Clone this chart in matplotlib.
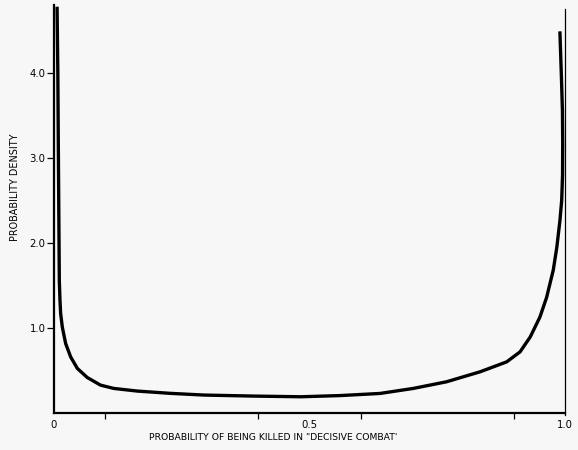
import matplotlib
matplotlib.use("Agg")
import matplotlib.pyplot as plt

# Data (probability of being killed vs density)
x_vals = [0.006, 0.0075, 0.0084, 0.0095, 0.0104, 0.0117, 0.013, 0.0163, 0.0228, 0.0326,
          0.0457, 0.065, 0.091, 0.117, 0.163, 0.228, 0.294, 0.391, 0.483, 0.560,
          0.638, 0.703, 0.768, 0.834, 0.886, 0.912, 0.932, 0.951, 0.964, 0.977,
          0.984, 0.990, 0.9935, 0.9952, 0.9955, 0.995, 0.993, 0.990]
y_vals = [4.78, 4.0, 3.2, 2.3, 1.56, 1.325, 1.17, 1.01, 0.817, 0.66,
          0.524, 0.418, 0.328, 0.289, 0.258, 0.231, 0.211, 0.199, 0.191, 0.205,
          0.23, 0.289, 0.367, 0.485, 0.602, 0.719, 0.895, 1.13, 1.36, 1.68,
          1.95, 2.26, 2.50, 2.80, 3.17, 3.55, 3.95, 4.49]

y_ticks = [1.0, 2.0, 3.0, 4.0]
y_tick_labels = ["1.0", "2.0", "3.0", "4.0"]
x_ticks = [0, 0.5, 1.0]
x_tick_labels = ["0", "0.5", "1.0"]
x_minor_ticks = [0.1, 0.4, 0.6, 0.9]

bg = "#f7f7f7"
fig = plt.figure(figsize=(5.78, 4.5), dpi=100, facecolor=bg)
ax = fig.add_axes([54/578, 37/450, 511/578, 408/450], facecolor=bg)

ax.plot(x_vals, y_vals, color="black", lw=2.4, solid_capstyle="butt",
        solid_joinstyle="round", clip_on=False)
# thin vertical boundary line at 1.0
ax.plot([1.0, 1.0], [-0.02, 4.75], color="black", lw=0.9, clip_on=False)

ax.set_xlim(0, 1.0)
ax.set_ylim(0, 4.8)

for s in ["top", "right"]:
    ax.spines[s].set_visible(False)
ax.spines["left"].set_linewidth(1.6)
ax.spines["bottom"].set_linewidth(1.6)

ax.set_yticks(y_ticks)
ax.set_yticklabels(y_tick_labels, fontsize=7.3)
ax.set_xticks(x_ticks)
ax.set_xticklabels(x_tick_labels, fontsize=7.3)
ax.set_xticks(x_minor_ticks, minor=True)
ax.tick_params(axis="y", direction="out", length=5, width=0.9, pad=1)
ax.tick_params(axis="x", which="major", length=0, pad=5)
ax.tick_params(axis="x", which="minor", direction="out", length=4, width=0.9)

fig.text(15/578, 1 - 187/450, "PROBABILITY DENSITY", rotation=90, ha="center", va="center",
         fontsize=6.9)
fig.text(273/578, 1 - 437/450, 'PROBABILITY OF BEING KILLED IN "DECISIVE COMBAT\'',
         ha="center", va="center", fontsize=6.7)

fig.savefig("out.png", dpi=100, facecolor=bg)
